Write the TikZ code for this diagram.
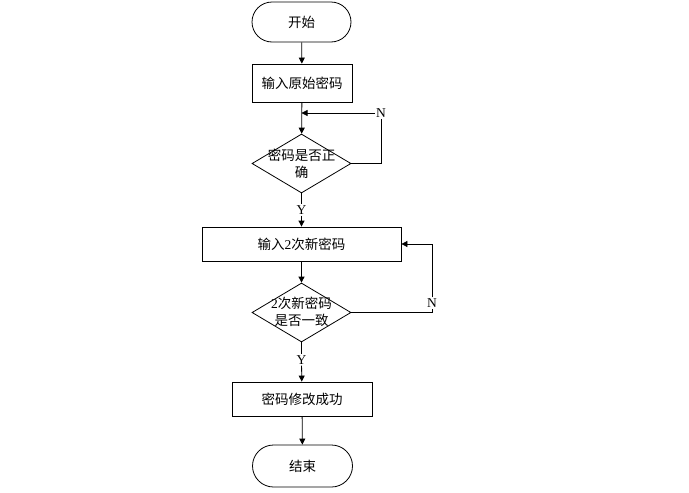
\documentclass[tikz,border=0pt]{standalone}
\usepackage{fontspec}
\setmainfont{Liberation Serif}
\newfontfamily\cjk{Noto Sans CJK SC}
\usetikzlibrary{shapes.geometric,arrows.meta}
\begin{document}
\begin{tikzpicture}[x=1pt,y=-1pt,
  every node/.style={font=\fontsize{13.5}{17.5}\selectfont},
  term/.style={draw,line width=0.8pt,rounded corners=20pt,minimum width=99pt,minimum height=40pt,inner sep=0pt},
  proc/.style={draw,line width=0.8pt,minimum height=36pt,inner sep=0pt},
  deci/.style={draw,line width=0.8pt,diamond,minimum width=99pt,minimum height=59pt,inner sep=0pt},
  dtext/.style={align=center,inner sep=0pt},
  lbl/.style={fill=white,inner sep=1pt,font=\fontsize{13.5}{15}\selectfont},
  arr/.style={line width=0.8pt,-{Triangle[length=6pt,width=6pt]}},
  ln/.style={line width=0.8pt}]
\useasboundingbox (0,0) rectangle (689,493);
\node[term] (start) at (301.5,22) {\cjk 开始};
\node[proc,minimum width=100pt,minimum height=38pt] (b1) at (302,83) {\cjk 输入原始密码};
\node[deci] (d1) at (301.5,163.5) {};
\node[dtext] (t1) at (301.5,164) {\cjk 密码是否正\\ \cjk 确};
\node[lbl] (y1) at (301.5,210) {Y};
\node[proc,minimum width=199pt,minimum height=34pt] (b2) at (301.5,244) {{\cjk 输入}2{\cjk 次新密码}};
\node[deci] (d2) at (301.5,312.5) {};
\node[dtext] (t2) at (301.5,312) {2{\cjk 次新密码}\\ {\cjk 是否一致}};
\node[lbl] (y2) at (301.5,360) {Y};
\node[proc,minimum width=140pt,minimum height=34pt] (b3) at (302,399) {\cjk 密码修改成功};
\node[term,minimum width=100pt,minimum height=42pt,rounded corners=21pt] (end) at (302.5,466) {\cjk 结束};
\node[lbl] (n1) at (381,113) {N};
\node[lbl] (n2) at (432,303) {N};
\coordinate (m1) at (301.5,113);
\draw[arr] (start) -- (b1);
\draw[arr] (b1) -- (d1);
\draw[ln] (d1.south) -- (y1);
\draw[arr] (y1) -- (b2);
\draw[arr] (b2) -- (d2);
\draw[ln] (d2.south) -- (y2);
\draw[arr] (y2) -- (b3);
\draw[arr] (b3) -- (end);
\draw[ln] (d1.east) -| (n1.south);
\draw[arr] (n1.west) -- (m1);
\draw[ln] (d2.east) -| (n2.south);
\draw[arr] (n2.north) |- (b2.east);
\end{tikzpicture}
\end{document}
